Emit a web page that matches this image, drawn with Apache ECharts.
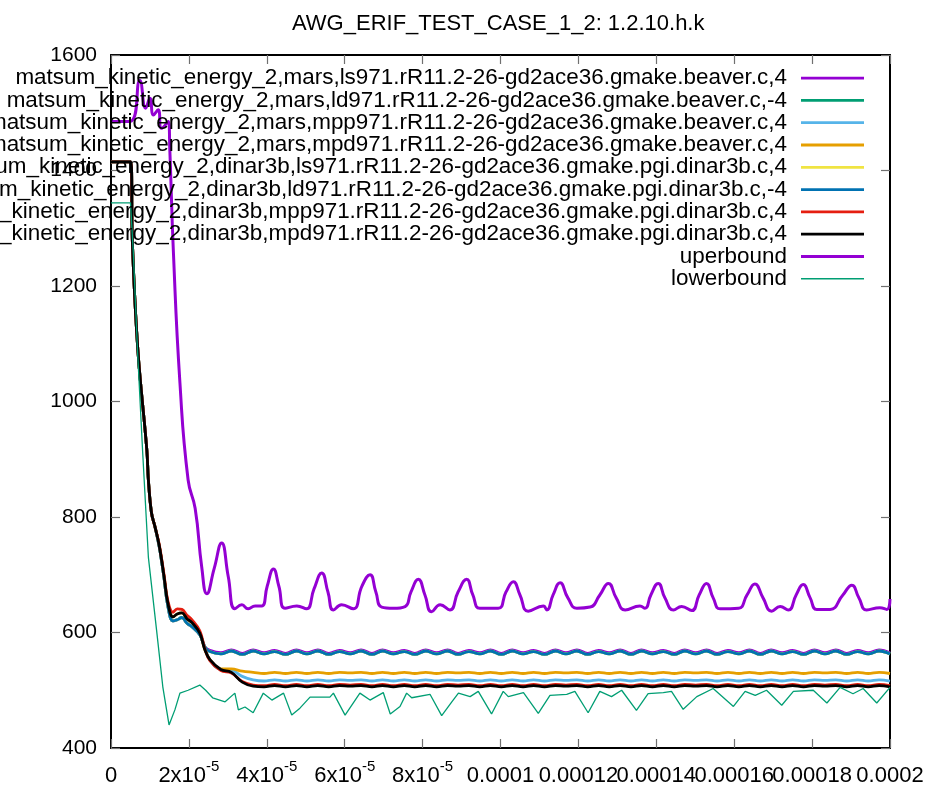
<!DOCTYPE html>
<html>
<head>
<meta charset="utf-8">
<script src="https://cdn.jsdelivr.net/npm/echarts@6/dist/echarts.min.js"></script>
<style>
  html, body { margin: 0; padding: 0; background: #fff; }
  #chart { width: 935px; height: 787px; }
</style>
</head>
<body>
<div id="chart"></div>
<script>
// time in microseconds
const tTransient = [0, 5.1, 5.5, 6.9, 9.2, 9.6, 10.4, 11.3, 12.4, 13.6, 14.6, 15.9, 17.0, 18.2, 19.5, 20.8, 22.8, 24.1];
const tSteady = [25.4, 28.2, 30.9, 33.7, 36.5, 39.3, 42.0, 44.8, 47.6, 50.3, 53.1, 55.9, 58.7, 61.4, 64.2, 67.0,
  69.7, 72.5, 75.3, 78.0, 80.8, 83.6, 86.4, 89.1, 91.9, 94.7, 97.4, 100.2, 103.0, 105.8, 108.5, 111.3,
  114.1, 116.8, 119.6, 122.4, 125.2, 127.9, 130.7, 133.5, 136.2, 139.0, 141.8, 144.6, 147.3, 150.1, 152.9, 155.6,
  158.4, 161.2, 163.9, 166.7, 169.5, 172.3, 175.0, 177.8, 180.6, 183.3, 186.1, 188.9, 191.7, 194.4, 197.2, 200.0];

// start of the runs (all runs nearly on top of each other)
const transMid = [1415, 1415, 1274, 1089, 916, 864, 807, 783, 750, 698, 651, 627, 632, 634, 624, 617, 599, 570];
const transHigh = [1415, 1415, 1274, 1089, 916, 864, 807, 783, 752, 701, 655, 635, 641, 640, 630, 622, 603, 572];
const transLow = [1415, 1415, 1274, 1089, 916, 864, 807, 783, 748, 695, 646, 620, 622, 626, 616, 610, 596, 575];

// settled part of the runs
const bandTop = [569, 565, 570, 564, 570, 565, 569, 564, 570, 565, 570, 564, 569, 565, 570, 564,
  570, 565, 569, 564, 570, 565, 570, 564, 569, 565, 570, 564, 570, 565, 569, 564,
  570, 565, 570, 564, 569, 565, 570, 564, 570, 565, 569, 564, 570, 565, 570, 564,
  569, 565, 570, 564, 570, 565, 569, 564, 570, 565, 570, 564, 569, 565, 570, 565];
const bandMid = [567, 563, 568, 562, 568, 563, 567, 562, 568, 563, 568, 562, 567, 563, 568, 562,
  568, 563, 567, 562, 568, 563, 568, 562, 567, 563, 568, 562, 568, 563, 567, 562,
  568, 563, 568, 562, 567, 563, 568, 562, 568, 563, 567, 562, 568, 563, 568, 562,
  567, 563, 568, 562, 568, 563, 567, 562, 568, 563, 568, 562, 567, 563, 568, 563];
const mpdMars = [553, 537, 537, 533, 531, 529, 531, 529, 531, 529, 531, 529, 531, 530, 531, 529,
  531, 529, 531, 529, 531, 529, 531, 530, 531, 529, 531, 529, 531, 529, 531, 529,
  531, 530, 531, 529, 531, 529, 531, 529, 531, 529, 531, 529, 531, 530, 531, 529,
  531, 529, 531, 529, 531, 529, 531, 529, 531, 530, 531, 529, 531, 529, 531, 529];
const mppMars = [552, 536, 535, 524, 518, 516, 518, 516, 518, 516, 518, 516, 518, 517, 518, 516,
  518, 516, 518, 516, 518, 516, 518, 517, 518, 516, 518, 516, 518, 516, 518, 516,
  518, 517, 518, 516, 518, 516, 518, 516, 518, 516, 518, 516, 518, 517, 518, 516,
  518, 516, 518, 516, 518, 516, 518, 516, 518, 517, 518, 516, 518, 516, 518, 516];
const mppDinar = [551, 534, 530, 515, 509, 508, 510, 508, 510, 508, 510, 508, 510, 509, 510, 508,
  510, 508, 510, 508, 510, 508, 510, 509, 510, 508, 510, 508, 510, 508, 510, 508,
  510, 509, 510, 508, 510, 508, 510, 508, 510, 508, 510, 508, 510, 509, 510, 508,
  510, 508, 510, 508, 510, 508, 510, 508, 510, 509, 510, 508, 510, 508, 510, 508];
const mpdDinar = [553, 536, 531, 514, 507, 506, 508, 506, 508, 506, 508, 506, 508, 507, 508, 506,
  508, 506, 508, 506, 508, 506, 508, 507, 508, 506, 508, 506, 508, 506, 508, 506,
  508, 507, 508, 506, 508, 506, 508, 506, 508, 506, 508, 506, 508, 507, 508, 506,
  508, 506, 508, 506, 508, 506, 508, 506, 508, 507, 508, 506, 508, 506, 508, 506];

// bounds
const upperT = [0, 4.9, 7.4, 8.9, 10.0, 10.9, 12.1, 13.0, 14.7, 15.1, 16.0, 17.7, 19.8, 21.6, 23.3, 24.6, 26.5, 28.4, 30.1, 31.8,
  33.6, 35.2, 37.0, 38.7, 40.1, 41.7, 43.1, 44.7, 47.7, 50.2, 52.1, 54.1, 55.7, 57.1, 59.2, 62.2, 64.4, 66.5, 68.0, 69.5,
  72.5, 75.5, 77.0, 78.9, 80.6, 82.3, 84.5, 87.0, 89.1, 91.3, 92.9, 94.7, 99.4, 101.4, 103.3, 105.0, 107.1, 111.0, 111.9, 113.5,
  115.3, 117.3, 119.6, 123.0, 125.5, 127.7, 129.7, 132.0, 135.8, 137.1, 138.6, 140.5, 142.2, 144.4, 146.5, 149.1, 151.0, 152.9, 154.6, 156.4,
  161.1, 163.3, 165.3, 167.4, 169.6, 171.8, 173.9, 175.9, 177.7, 179.5, 181.2, 184.6, 187.9, 190.2, 192.0, 194.0, 197.4, 199.2, 200];
const upperV = [1485, 1485, 1556, 1508, 1525, 1496, 1505, 1473, 1485, 1436, 1262, 1032, 864, 815, 713, 667, 711, 755, 697, 641,
  648, 641, 646, 646, 680, 710, 680, 642, 646, 641, 675, 703, 670, 639, 648, 641, 680, 700, 670, 644,
  642, 645, 670, 692, 665, 636, 648, 639, 670, 692, 665, 642, 642, 670, 688, 665, 637, 646, 639, 665,
  686, 660, 642, 644, 665, 685, 660, 639, 646, 642, 665, 685, 660, 639, 645, 638, 665, 685, 660, 641,
  642, 665, 684, 660, 637, 645, 639, 665, 683, 660, 640, 640, 665, 682, 660, 639, 643, 640, 658];
const lowerT = [0, 5.0, 5.7, 6.8, 8.1, 9.6, 11.7, 13.3, 14.9, 16.4, 17.7, 19.8, 22.8, 24.3, 26.1, 29.3, 31.8, 32.7, 34.4, 36.5,
  39.1, 41.3, 44.3, 46.4, 48.5, 51.1, 56.2, 57.1, 60.1, 63.9, 66.5, 69.9, 71.7, 74.2, 75.9, 77.2, 81.9, 84.9, 87.5, 89.2,
  92.2, 94.3, 97.7, 100.7, 102.0, 105.9, 109.7, 112.7, 117.0, 119.1, 122.5, 125.5, 128.5, 131.1, 134.9, 137.9, 141.8, 143.9, 146.9, 150.4,
  154.6, 159.8, 162.8, 165.4, 168.3, 172.2, 175.2, 180.3, 183.8, 187.2, 190.5, 193.1, 196.6, 200];
const lowerV = [1344, 1344, 1262, 1089, 916, 730, 604, 506, 440, 466, 495, 500, 509, 500, 487, 480, 495, 466, 471, 461,
  495, 483, 495, 457, 469, 488, 488, 495, 457, 495, 483, 496, 459, 472, 495, 487, 493, 456, 480, 495,
  489, 498, 459, 498, 489, 496, 460, 491, 493, 498, 461, 498, 489, 500, 465, 494, 496, 498, 467, 489,
  503, 472, 498, 491, 500, 474, 498, 500, 478, 505, 494, 503, 478, 505];

const xTickLabels = ['0', '2x10^-5', '4x10^-5', '6x10^-5', '8x10^-5', '0.0001', '0.00012', '0.00014', '0.00016', '0.00018', '0.0002'];

const seriesNames = [
  'matsum_kinetic_energy_2,mars,ls971.rR11.2-26-gd2ace36.gmake.beaver.c,4',
  'matsum_kinetic_energy_2,mars,ld971.rR11.2-26-gd2ace36.gmake.beaver.c,-4',
  'matsum_kinetic_energy_2,mars,mpp971.rR11.2-26-gd2ace36.gmake.beaver.c,4',
  'matsum_kinetic_energy_2,mars,mpd971.rR11.2-26-gd2ace36.gmake.beaver.c,4',
  'matsum_kinetic_energy_2,dinar3b,ls971.rR11.2-26-gd2ace36.gmake.pgi.dinar3b.c,4',
  'matsum_kinetic_energy_2,dinar3b,ld971.rR11.2-26-gd2ace36.gmake.pgi.dinar3b.c,-4',
  'matsum_kinetic_energy_2,dinar3b,mpp971.rR11.2-26-gd2ace36.gmake.pgi.dinar3b.c,4',
  'matsum_kinetic_energy_2,dinar3b,mpd971.rR11.2-26-gd2ace36.gmake.pgi.dinar3b.c,4',
  'uperbound',
  'lowerbound'
];
const colors = ['#9400d3', '#009e73', '#56b4e9', '#e69f00', '#f0e442', '#0072b2', '#e51e10', '#000000', '#9400d3', '#009e73'];

const font = '"Liberation Sans", Arial, sans-serif';

function pairs(t, v) {
  return t.map((x, i) => [x, v[i]]);
}

const tAll = tTransient.concat(tSteady);
const runData = [
  transLow.concat(bandTop),
  transLow.concat(bandMid),
  transLow.concat(mppMars),
  transMid.concat(mpdMars),
  transLow.concat(bandMid),
  transLow.concat(bandMid),
  transHigh.concat(mppDinar),
  transMid.concat(mpdDinar)
];

const series = runData.map((vals, i) => ({
  name: seriesNames[i],
  type: 'line',
  symbol: 'none',
  smooth: 0.4,
  lineStyle: { width: 2.8, color: colors[i] },
  itemStyle: { color: colors[i] },
  data: pairs(tAll, vals)
}));
series.push({
  name: seriesNames[8],
  type: 'line',
  symbol: 'none',
  smooth: 0.5,
  lineStyle: { width: 3, color: colors[8] },
  itemStyle: { color: colors[8] },
  data: pairs(upperT, upperV)
});
series.push({
  name: seriesNames[9],
  type: 'line',
  symbol: 'none',
  lineStyle: { width: 1.3, color: colors[9] },
  itemStyle: { color: colors[9] },
  data: pairs(lowerT, lowerV)
});

// legend: plain line samples, thin one for the lower bound
const legendData = seriesNames.map((n, i) => ({
  name: n,
  icon: i === 9 ? 'path://M0,1.2 L63,1.2 L63,2.6 L0,2.6 Z' : 'path://M0,0.5 L63,0.5 L63,3.3 L0,3.3 Z'
}));

const chart = echarts.init(document.getElementById('chart'));
const tick = { show: true, inside: true, length: 9, lineStyle: { color: '#707070', width: 1.2 } };
const border = { show: true, onZero: false, lineStyle: { color: '#000', width: 2 } };

chart.setOption({
  animation: false,
  backgroundColor: '#fff',
  title: {
    text: 'AWG_ERIF_TEST_CASE_1_2: 1.2.10.h.k',
    left: 287,
    top: 8,
    textStyle: { fontSize: 22, fontWeight: 'normal', color: '#000', fontFamily: font }
  },
  legend: {
    orient: 'vertical',
    align: 'right',
    right: 71,
    top: 67,
    padding: 0,
    itemWidth: 63,
    itemHeight: 3.8,
    itemGap: 0.1,
    selectedMode: false,
    data: legendData,
    textStyle: { fontSize: 22.45, lineHeight: 22.2, color: '#000', fontFamily: font, padding: [0, 9, 0, 0] }
  },
  grid: { left: 111, right: 45, top: 55, bottom: 39 },
  xAxis: [{
    type: 'value',
    min: 0, max: 200, interval: 20,
    axisLine: border,
    axisTick: tick,
    splitLine: { show: false },
    axisLabel: {
      margin: 11,
      color: '#000',
      showMinLabel: true,
      showMaxLabel: true,
      formatter: function (v) {
        const s = xTickLabels[Math.round(v / 20)];
        if (s === undefined) return '';
        const p = s.split('^');
        return p.length > 1 ? '{b|' + p[0] + '}{s|' + p[1] + '}' : '{b|' + p[0] + '}';
      },
      rich: {
        b: { fontSize: 22, lineHeight: 28, verticalAlign: 'bottom', fontFamily: font, color: '#000' },
        s: { fontSize: 15, lineHeight: 16, verticalAlign: 'top', fontFamily: font, color: '#000' }
      }
    }
  }, {
    type: 'value',
    position: 'top',
    min: 0, max: 200, interval: 20,
    axisLine: border,
    axisTick: tick,
    axisLabel: { show: false },
    splitLine: { show: false }
  }],
  yAxis: [{
    type: 'value',
    min: 400, max: 1600, interval: 200,
    axisLine: border,
    axisTick: tick,
    splitLine: { show: false },
    axisLabel: { margin: 14, fontSize: 21, color: '#000', fontFamily: font, formatter: v => String(v) }
  }, {
    type: 'value',
    position: 'right',
    min: 400, max: 1600, interval: 200,
    axisLine: border,
    axisTick: tick,
    axisLabel: { show: false },
    splitLine: { show: false }
  }],
  series: series
});
</script>
</body>
</html>
